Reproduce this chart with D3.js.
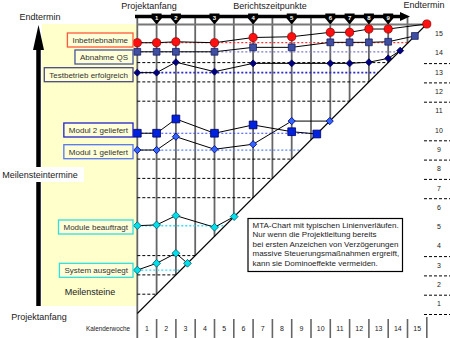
<!DOCTYPE html>
<html><head><meta charset="utf-8">
<script src="https://cdn.jsdelivr.net/npm/d3@7"></script>
<style>
html,body{margin:0;padding:0;background:#fff;}
svg{display:block;font-family:"Liberation Sans",Arial,sans-serif;}
</style></head><body>
<svg id="c" width="450" height="338"></svg>
<script>
// Report dates (weeks since project start) at which the milestone dates were re-estimated
const reportWeeks = [0, 1, 2, 4, 6, 8, 10, 11, 12, 13];
const reportLabels = ["1", "2", "3", "4", "5", "6", "7", "8", "9"];
const calendarWeeks = [1, 2, 3, 4, 5, 6, 7, 8, 9, 10, 11, 12, 13, 14, 15];
const rowLabels = [1, 2, 3, 4, 5, 6, 7, 8, 9, 10, 11, 12, 13, 14, 15];
const innerDashed = [1, 2, 3, 6, 7, 8, 11, 12, 13];
const rightDashed = [0, 1, 2, 3, 6, 7, 8, 9, 11, 12, 13];

// Forecast milestone dates (in weeks) at each report date
const milestoneNames = ["Inbetriebnahme", "Abnahme QS", "Testbetrieb erfolgreich",
  "Modul 2 geliefert", "Modul 1 geliefert", "Module beauftragt", "System ausgelegt"];
const inbetriebnahme = [14.03, 14.03, 14.08, 14.03, 14.3, 14.34, 14.57, 14.57, 14.74, 14.74];
const abnahmeQS = [13.56, 13.56, 13.56, 13.56, 13.79, 13.79, 14.05, 14.05, 14.05, 14.08];
const testbetrieb = [12.48, 12.48, 13.02, 12.53, 12.96, 12.96, 12.96, 12.96, 13.02, 13.22];
const modul2 = [9.34, 9.34, 10.08, 9.34, 9.77, 9.42];
const modul1 = [8.47, 8.47, 9.16, 8.51, 8.77, 9.97];
const moduleBeauftragt = [4.55, 4.59, 5.07, 4.47];
const systemAusgelegt = [2.25, 2.6, 3.12];
// Week in which each milestone was actually reached (lies on the diagonal)
const reached = [15, 14.38, 13.62, 9.3, 9.97, 5.02, 2.6];

const noteLines = [
  "MTA-Chart mit typischen Linienverläufen.",
  "Nur wenn die Projektleitung bereits",
  "bei ersten Anzeichen von Verzögerungen",
  "massive Steuerungsmaßnahmen ergreift,",
  "kann sie Dominoeffekte vermeiden."
];

const seriesValues = [inbetriebnahme, abnahmeQS, testbetrieb, modul2, modul1, moduleBeauftragt, systemAusgelegt];

// Visual styles per milestone
const styles = [
  {shape: "circle", size: 52, fill: "#ff1010", stroke: "#990000", box: "#ff5a3c", base: "#ff3333", baseW: 1.2, boxY: 40},
  {shape: "square", size: 46, fill: "#3f4ea0", stroke: "#1a2266", box: "#4a5599", base: "#7a7ad0", baseW: 1.2, boxY: 57},
  {shape: "diamond", size: 24, fill: "#000080", stroke: "#000050", box: "#4a4a7a", base: "#2a2acc", baseW: 1.8, boxY: 74.7},
  {shape: "square", size: 60, fill: "#0022dd", stroke: "#000066", box: "#2222cc", base: "#3344ff", baseW: 1.2, boxY: 130},
  {shape: "diamond", size: 26, fill: "#3366ff", stroke: "#000080", box: "#5577ee", base: "#5588ff", baseW: 1.2, boxY: 151.7},
  {shape: "diamond", size: 30, fill: "#00e0ea", stroke: "#006070", box: "#33dddd", base: "#33ddff", baseW: 1.4, boxY: 227},
  {shape: "diamond", size: 30, fill: "#00e0ea", stroke: "#006070", box: "#33dddd", base: "#33ddff", baseW: 1.4, boxY: 270.3}
];

const svg = d3.select("#c");
const x = d3.scaleLinear().domain([0, 15]).range([137.3, 426.8]);
const y = d3.scaleLinear().domain([0, 15]).range([313.5, 24]);

// Left panel
svg.append("rect").attr("x", 42).attr("y", 24).attr("width", 95).attr("height", 282).attr("fill", "#ffffcc");

// Vertical axis arrow
svg.append("line").attr("x1", 38.5).attr("x2", 38.5).attr("y1", 306).attr("y2", 40)
  .attr("stroke", "#000").attr("stroke-width", 4.5);
svg.append("path").attr("d", "M33,50 L38.5,25 L44,50 Z").attr("fill", "#000");

svg.append("rect").attr("x", 0).attr("y", 167).attr("width", 84).attr("height", 15).attr("fill", "#fff");

// Grid: vertical lines from the top bar down to the diagonal
const gridWeeks = d3.range(0, 15);
svg.append("g").selectAll("line").data(gridWeeks).join("line")
  .attr("x1", d => x(d)).attr("x2", d => x(d))
  .attr("y1", 17).attr("y2", d => d === 0 ? 338 : y(d))
  .attr("stroke", "#666").attr("stroke-width", 1.8);

// Calendar week ticks
svg.append("g").selectAll("line").data(d3.range(1, 16)).join("line")
  .attr("x1", d => x(d)).attr("x2", d => x(d))
  .attr("y1", d => d === 15 ? 317 : 319).attr("y2", 338)
  .attr("stroke", "#666").attr("stroke-width", 1.6);

// Dashed week rows inside the chart
svg.append("g").selectAll("line").data(innerDashed).join("line")
  .attr("x1", x(0)).attr("x2", d => x(d)).attr("y1", d => y(d)).attr("y2", d => y(d))
  .attr("stroke", "#000").attr("stroke-width", 1).attr("stroke-dasharray", "3,2");

// Dashed separators in the right-hand week column
svg.append("g").selectAll("line").data(rightDashed).join("line")
  .attr("x1", 424).attr("x2", 450).attr("y1", d => y(d) + 1).attr("y2", d => y(d) + 1)
  .attr("stroke", "#000").attr("stroke-width", 1).attr("stroke-dasharray", "3,2");

// Planned-date baselines
seriesValues.forEach((vals, i) => {
  svg.append("line").attr("x1", x(0)).attr("x2", x(vals[0])).attr("y1", y(vals[0])).attr("y2", y(vals[0]))
    .attr("stroke", styles[i].base).attr("stroke-width", styles[i].baseW).attr("stroke-dasharray", "2,2");
});

// Top level line (week 15)
svg.append("line").attr("x1", x(0)).attr("x2", x(15)).attr("y1", y(15) + 0.5).attr("y2", y(15) + 0.5)
  .attr("stroke", "#777").attr("stroke-width", 2);

// Diagonal
svg.append("line").attr("x1", x(0)).attr("y1", y(0)).attr("x2", x(15)).attr("y2", y(15))
  .attr("stroke", "#000").attr("stroke-width", 1.1);

// Report-date bar with arrow
svg.append("line").attr("x1", 135).attr("x2", 402).attr("y1", 16.5).attr("y2", 16.5)
  .attr("stroke", "#000").attr("stroke-width", 3.5);
svg.append("path").attr("d", "M400,12 L410,16.5 L400,21 Z").attr("fill", "#000");

const markers = svg.append("g").selectAll("g").data(reportLabels).join("g")
  .attr("transform", (d, i) => `translate(${x(reportWeeks[i + 1])},0)`);
markers.append("path").attr("d", "M-5,13.5 L5,13.5 L5,18.5 L0,24.5 L-5,18.5 Z").attr("fill", "#000");
markers.append("text").text(d => d).attr("y", 20.3).attr("text-anchor", "middle")
  .attr("font-size", 6).attr("font-weight", "bold").attr("fill", "#fff");

// Trend lines and markers
const symbolType = {circle: d3.symbolCircle, square: d3.symbolSquare, diamond: d3.symbolSquare};
seriesValues.forEach((vals, i) => {
  const pts = vals.map((v, j) => [x(reportWeeks[j]), y(v)]);
  pts.push([x(reached[i]), y(reached[i])]);
  svg.append("path").attr("d", d3.line()(pts)).attr("fill", "none")
    .attr("stroke", "#000").attr("stroke-width", 1);
  const st = styles[i];
  svg.append("g").selectAll("path").data(pts).join("path")
    .attr("d", d3.symbol().type(symbolType[st.shape]).size(st.size)())
    .attr("transform", d => `translate(${d[0]},${d[1]})` + (st.shape === "diamond" ? " rotate(45)" : ""))
    .attr("fill", st.fill).attr("stroke", st.stroke).attr("stroke-width", 0.8);
});

// Milestone name boxes
milestoneNames.forEach((name, i) => {
  const g = svg.append("g");
  const t = g.append("text").text(name).attr("font-size", 8).attr("fill", "#333")
    .attr("text-anchor", "middle").attr("y", styles[i].boxY + 2.9);
  const w = t.node().getComputedTextLength() + 10;
  t.attr("x", 133 - w / 2);
  g.insert("rect", "text").attr("x", 133 - w).attr("y", styles[i].boxY - 7).attr("width", w).attr("height", 14)
    .attr("fill", "#ffffd8").attr("stroke", styles[i].box).attr("stroke-width", 1.3);
});

// Axis and header texts
const txt = (s, px, py, size, anchor) => svg.append("text").text(s).attr("x", px).attr("y", py)
  .attr("font-size", size).attr("fill", "#222").attr("text-anchor", anchor || "middle");
txt("Endtermin", 40, 20, 9);
txt("Projektanfang", 149, 9, 9);
txt("Berichtszeitpunkte", 270, 9, 9);
txt("Endtermin", 424, 8, 9);
txt("Meilensteintermine", 40, 178, 9);
txt("Meilensteine", 90, 295, 9);
txt("Projektanfang", 39, 320, 9);
txt("Kalenderwoche", 108, 331, 6.4);

// Week numbers
svg.append("g").selectAll("text").data(calendarWeeks).join("text")
  .text(d => d).attr("x", d => x(d - 0.5)).attr("y", 331)
  .attr("text-anchor", "middle").attr("font-size", 7).attr("fill", "#222");
svg.append("g").selectAll("text").data(rowLabels).join("text")
  .text(d => d).attr("x", 439).attr("y", d => y(d - 0.5) + 2.5)
  .attr("text-anchor", "middle").attr("font-size", 7).attr("fill", "#222");

// Note box
svg.append("rect").attr("x", 248).attr("y", 218.5).attr("width", 154.5).attr("height", 53)
  .attr("fill", "#fff").attr("stroke", "#000").attr("stroke-width", 1.2);
svg.append("g").selectAll("text").data(noteLines).join("text")
  .text(d => d).attr("x", 252.5).attr("y", (d, i) => 228 + i * 9.4)
  .attr("font-size", 8).attr("fill", "#222");
</script>
</body></html>
